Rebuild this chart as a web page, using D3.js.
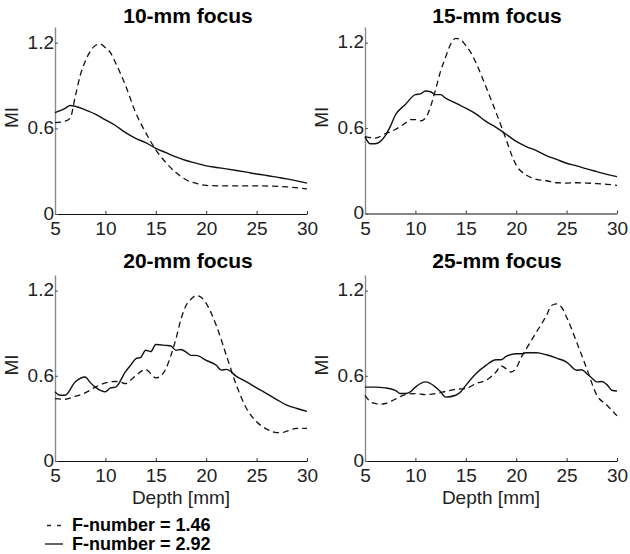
<!DOCTYPE html>
<html><head><meta charset="utf-8">
<script src="https://cdn.jsdelivr.net/npm/d3@7"></script>
<style>
body{margin:0;background:#fff;}
text{font-family:"Liberation Sans",Arial,Helvetica,sans-serif;}
</style></head>
<body><svg id="c" width="630" height="554"></svg>
<script>
const titles = ["10-mm focus","15-mm focus","20-mm focus","25-mm focus"];
const xTicks = [5,10,15,20,25,30];
const yTicks = [0,0.6,1.2];
const yTickLabels = ["0","0.6","1.2"];
const legendLabels = ["F-number = 1.46","F-number = 2.92"];

// 10-mm focus
const d10_x = [5,6,6.5,7,7.5,8,8.5,9,9.5,10,10.5,11,12,13,14,15,16,17,18,19,20,22,25,28,30];
const d10_y = [0.64,0.65,0.67,0.82,0.97,1.07,1.14,1.18,1.19,1.165,1.13,1.06,0.9,0.71,0.57,0.45,0.36,0.29,0.24,0.215,0.2,0.197,0.197,0.19,0.176];
const s10_x = [5,6,6.5,7,8,9,10,11,12,13,14,15,16,17,18,19,20,21,22,23,24,25,26,27,28,29,30];
const s10_y = [0.71,0.74,0.76,0.755,0.73,0.70,0.66,0.62,0.57,0.53,0.50,0.46,0.43,0.40,0.375,0.356,0.337,0.326,0.316,0.305,0.293,0.28,0.27,0.258,0.246,0.232,0.216];
// 15-mm focus
const d15_x = [5,6,7,8,9,9.5,10,10.5,11,11.5,12,12.5,13,13.5,14,14.5,15,15.5,16,17,18,19,19.5,20,21,22,23,24,25,26,27,28,29,30];
const d15_y = [0.54,0.53,0.56,0.59,0.635,0.66,0.66,0.65,0.67,0.75,0.87,1.0,1.1,1.19,1.23,1.22,1.18,1.13,1.06,0.89,0.71,0.52,0.42,0.34,0.27,0.24,0.23,0.216,0.214,0.216,0.214,0.21,0.205,0.198];
const s15_x = [5,5.5,6,6.5,7,7.5,8,9,10,10.5,11,11.5,12,12.5,13,14,15,16,17,18,19,20,21,22,23,24,25,26,27,28,29,30];
const s15_y = [0.54,0.49,0.49,0.505,0.545,0.61,0.69,0.765,0.835,0.84,0.86,0.855,0.835,0.835,0.81,0.776,0.74,0.70,0.647,0.605,0.557,0.506,0.47,0.442,0.407,0.38,0.353,0.334,0.313,0.294,0.275,0.259];
// 20-mm focus
const d20_x = [5,6,7,8,9,10,11,11.5,12,12.5,13,14,14.5,15,15.5,16,16.5,17,17.5,18,18.5,19,19.5,20,21,22,23,24,25,26,27,27.5,28,29,30];
const d20_y = [0.44,0.435,0.455,0.48,0.52,0.55,0.56,0.556,0.545,0.57,0.6,0.645,0.615,0.585,0.6,0.65,0.744,0.86,1.0,1.095,1.14,1.165,1.153,1.11,0.955,0.744,0.533,0.37,0.276,0.225,0.2,0.2,0.21,0.23,0.23];
const s20_x = [5,5.5,6,7,8,8.5,9,10,10.5,11,12,12.5,13,13.5,14,14.5,15,16,16.5,17,17.5,18,18.5,19,20,21,21.5,22,23,24,25,26,27,28,29,30];
const s20_y = [0.487,0.463,0.463,0.557,0.592,0.552,0.52,0.487,0.515,0.52,0.63,0.674,0.72,0.73,0.78,0.77,0.82,0.814,0.81,0.78,0.785,0.767,0.744,0.744,0.709,0.674,0.64,0.645,0.596,0.557,0.515,0.475,0.433,0.393,0.37,0.35];
// 25-mm focus
const d25_x = [5,5.5,6,6.5,7,8,9,10,11,12,13,14,15,16,17,18,18.5,19,19.5,20,20.5,21,22,23,23.5,24,24.5,25,26,27,28,29,30];
const d25_y = [0.463,0.42,0.405,0.4,0.405,0.435,0.468,0.475,0.468,0.475,0.49,0.505,0.51,0.545,0.568,0.627,0.67,0.65,0.627,0.655,0.73,0.79,0.907,1.025,1.095,1.106,1.083,1.013,0.837,0.65,0.463,0.393,0.318];
const s25_x = [5,6,7,8,8.5,9,9.5,10,11,12,12.5,13,14,14.5,15,16,17,18,18.5,19,20,20.5,21,22,23,24,25,26,26.5,27,27.5,28,28.5,29,29.5,30];
const s25_y = [0.52,0.52,0.515,0.498,0.475,0.475,0.487,0.52,0.557,0.52,0.487,0.45,0.463,0.487,0.533,0.615,0.674,0.713,0.713,0.737,0.755,0.755,0.762,0.762,0.748,0.725,0.697,0.639,0.643,0.615,0.585,0.557,0.56,0.538,0.498,0.493];

const panels = [
  {title:titles[0], dx:d10_x, dy:d10_y, sx:s10_x, sy:s10_y, x0:55, x1:307, yb:214, yt:27, tx:188, ty:22.5, xlab:false},
  {title:titles[1], dx:d15_x, dy:d15_y, sx:s15_x, sy:s15_y, x0:365, x1:617, yb:213.5, yt:27, tx:497, ty:22.5, xlab:false},
  {title:titles[2], dx:d20_x, dy:d20_y, sx:s20_x, sy:s20_y, x0:55, x1:307, yb:461, yt:275, tx:188, ty:267.5, xlab:true},
  {title:titles[3], dx:d25_x, dy:d25_y, sx:s25_x, sy:s25_y, x0:365, x1:617, yb:461, yt:275, tx:497, ty:267.5, xlab:true}
];

const svg = d3.select("#c");
const yMax = 1.31;

panels.forEach(p => {
  const x = d3.scaleLinear().domain([5,30]).range([p.x0,p.x1]);
  const y = d3.scaleLinear().domain([0,yMax]).range([p.yb,p.yt]);
  const g = svg.append("g");

  const xa = g.append("g").attr("transform",`translate(0,${p.yb})`)
    .call(d3.axisBottom(x).tickValues(xTicks).tickSizeInner(-3).tickSizeOuter(0).tickPadding(8).tickFormat(d3.format("d")));
  xa.select(".domain").attr("stroke","#111").attr("stroke-width",1.2);
  xa.selectAll(".tick line").attr("stroke","#333");
  xa.selectAll("text").attr("font-size",19).attr("fill","#222").attr("dy","0.7em");

  const ya = g.append("g").attr("transform",`translate(${p.x0},0)`)
    .call(d3.axisLeft(y).tickValues(yTicks).tickSizeInner(-3).tickSizeOuter(0).tickPadding(1).tickFormat((d,i)=>yTickLabels[i]));
  ya.select(".domain").attr("stroke","#8a8a8a").attr("stroke-width",1.4);
  ya.selectAll(".tick line").attr("stroke","#555");
  ya.selectAll("text").attr("font-size",19).attr("fill","#222").attr("dy","0.28em");

  g.append("text").attr("x",p.tx).attr("y",p.ty).attr("text-anchor","middle")
    .attr("font-size",21).attr("font-weight","bold").attr("fill","#000").text(p.title);

  const cy = (p.yb+p.yt)/2 - 3;
  g.append("text").attr("transform",`translate(${p.x0-37},${cy}) rotate(-90)`)
    .attr("text-anchor","middle").attr("font-size",19).attr("fill","#222").text("MI");

  if (p.xlab) {
    g.append("text").attr("x",(p.x0+p.x1)/2).attr("y",p.yb+43).attr("text-anchor","middle")
      .attr("font-size",19).attr("fill","#222").text("Depth [mm]");
  }

  const line = d3.line().x(d=>x(d[0])).y(d=>y(d[1])).curve(d3.curveMonotoneX);
  g.append("path").datum(d3.zip(p.dx,p.dy)).attr("d",line)
    .attr("fill","none").attr("stroke","#111").attr("stroke-width",1.3).attr("stroke-dasharray","6,4");
  g.append("path").datum(d3.zip(p.sx,p.sy)).attr("d",line)
    .attr("fill","none").attr("stroke","#111").attr("stroke-width",1.4);
});

const lg = svg.append("g");
lg.append("line").attr("x1",47).attr("x2",63).attr("y1",525.5).attr("y2",525.5)
  .attr("stroke","#222").attr("stroke-width",1.3).attr("stroke-dasharray","4,6");
lg.append("line").attr("x1",45).attr("x2",63).attr("y1",544).attr("y2",544)
  .attr("stroke","#222").attr("stroke-width",1.4);
lg.append("text").attr("x",72).attr("y",531).attr("font-size",18).attr("font-weight","bold").attr("fill","#000").text(legendLabels[0]);
lg.append("text").attr("x",72).attr("y",550).attr("font-size",18).attr("font-weight","bold").attr("fill","#000").text(legendLabels[1]);
</script></body></html>
